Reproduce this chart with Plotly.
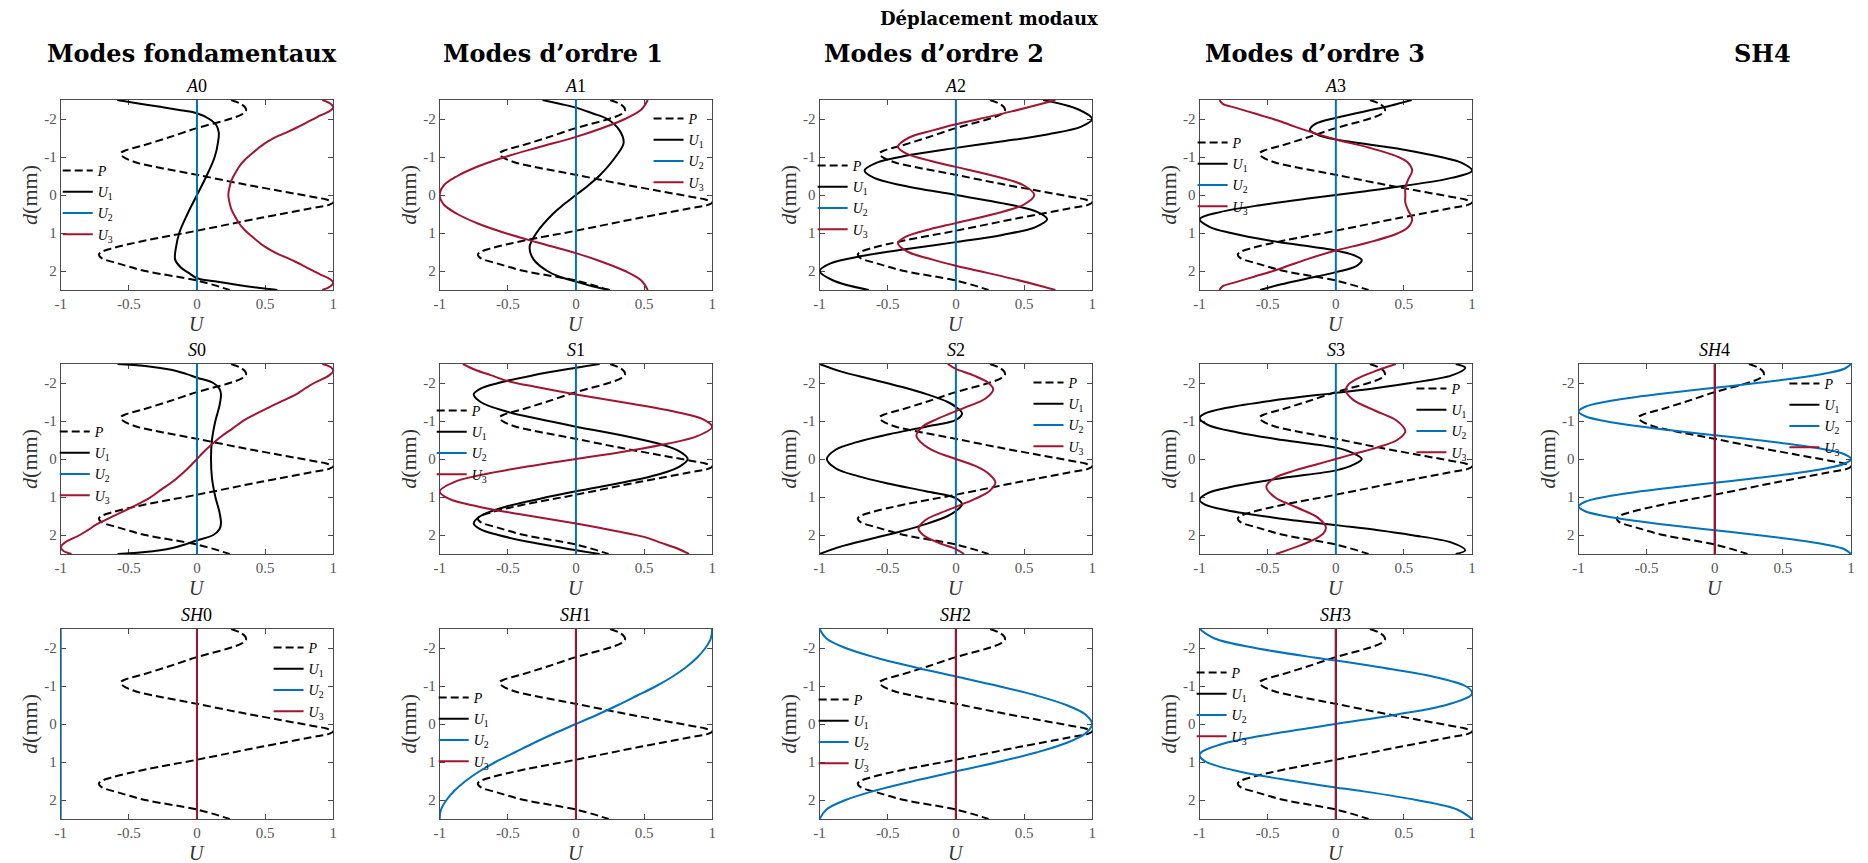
import plotly.graph_objects as go

W, H = 1868, 863

# ---------------- data (depth d in mm, normalised displacement U) ----------------
P_d = [-2.5, -2.4, -2.3, -2.22, -2.12, -2.0, -1.76, -1.5, -1.3, -1.18, -1.1, -1.0, -0.85, -0.7, -0.53,
       -0.3, -0.1, 0.05, 0.12, 0.19, 0.26, 0.35, 0.6, 0.94, 1.2, 1.4, 1.5, 1.57, 1.66, 1.8, 2.0, 2.25, 2.5]
P_u = [0.25, 0.32, 0.355, 0.36, 0.33, 0.24, 0.0, -0.22, -0.40, -0.52, -0.56, -0.54, -0.44, -0.25, 0.0,
       0.32, 0.62, 0.85, 0.95, 1.0, 0.97, 0.84, 0.47, 0.0, -0.38, -0.62, -0.70, -0.72, -0.70, -0.58, -0.38, 0.0, 0.24]

d_ends = [-2.5, 2.5]
zero_line = [0.0, 0.0]
minus_one_line = [-1.0, -1.0]

A0_U1_d = [-2.5, -2.41, -2.32, -2.23, -2.15, -2.0, -1.85, -1.65, -1.4, -1.0, -0.5, 0.0, 0.5, 1.0, 1.4, 1.7,
           1.9, 2.05, 2.19, 2.27, 2.36, 2.44, 2.5]
A0_U1 = [-0.585, -0.43, -0.27, -0.12, 0.0, 0.09, 0.14, 0.16, 0.155, 0.13, 0.07, 0.0, -0.07, -0.13, -0.155, -0.16,
         -0.12, -0.06, 0.0, 0.13, 0.29, 0.45, 0.59]
A0_U3_d = [-2.5, -2.4, -2.3, -2.2, -2.1, -1.99, -1.88, -1.77, -1.67, -1.56, -1.45, -1.34, -1.23, -1.08, -0.92,
           -0.75, -0.57, -0.4, -0.22, 0.0, 0.22, 0.4, 0.57, 0.75, 0.92, 1.08, 1.23, 1.34, 1.45, 1.56, 1.67, 1.77,
           1.88, 1.99, 2.1, 2.2, 2.3, 2.4, 2.5]
A0_U3 = [0.92, 0.98, 1.0, 0.97, 0.91, 0.85, 0.79, 0.73, 0.67, 0.60, 0.54, 0.49, 0.45, 0.40, 0.35,
         0.31, 0.28, 0.255, 0.24, 0.23, 0.24, 0.255, 0.28, 0.31, 0.35, 0.40, 0.45, 0.49, 0.54, 0.60, 0.67, 0.73,
         0.79, 0.85, 0.91, 0.97, 1.0, 0.98, 0.92]

A1_U1_d = [-2.5, -2.4, -2.3, -2.15, -2.0, -1.7, -1.37, -1.0, -0.5, -0.25, 0.0, 0.25, 0.5, 1.0, 1.37, 1.7, 2.0,
           2.15, 2.28, 2.4, 2.5]
A1_U1 = [-0.245, -0.12, 0.0, 0.12, 0.23, 0.32, 0.35, 0.29, 0.17, 0.09, 0.0, -0.09, -0.17, -0.29, -0.34, -0.31,
         -0.21, -0.12, 0.0, 0.12, 0.25]
A1_U3_d = [-2.5, -2.25, -2.0, -1.75, -1.53, -1.25, -1.0, -0.75, -0.5, -0.25, 0.0, 0.25, 0.5, 0.75, 1.0, 1.25,
           1.53, 1.75, 2.0, 2.25, 2.5]
A1_U3 = [0.527, 0.48, 0.36, 0.185, 0.0, -0.28, -0.52, -0.72, -0.87, -0.97, -1.0, -0.97, -0.87, -0.72, -0.52,
         -0.28, 0.0, 0.185, 0.36, 0.48, 0.527]

A2_U1_d = [-2.5, -2.25, -2.0, -1.8, -1.6, -1.42, -1.24, -1.05, -0.85, -0.64, -0.45, -0.25, 0.0, 0.25, 0.45,
           0.64, 0.85, 1.05, 1.24, 1.42, 1.6, 1.8, 2.0, 2.25, 2.5]
A2_U1 = [0.64, 0.9, 1.0, 0.92, 0.68, 0.36, 0.0, -0.34, -0.58, -0.67, -0.60, -0.39, 0.0, 0.39, 0.60,
         0.67, 0.58, 0.34, 0.0, -0.36, -0.68, -0.92, -1.0, -0.9, -0.64]
A2_U3_d = [-2.5, -2.4, -2.2, -2.0, -1.86, -1.7, -1.5, -1.27, -1.1, -0.9, -0.74, -0.5, -0.25, 0.0, 0.25, 0.5,
           0.74, 0.9, 1.1, 1.27, 1.5, 1.7, 1.86, 2.0, 2.2, 2.4, 2.5]
A2_U3 = [0.73, 0.63, 0.41, 0.17, 0.0, -0.17, -0.35, -0.425, -0.37, -0.19, 0.0, 0.28, 0.50, 0.575, 0.50, 0.28,
         0.0, -0.19, -0.37, -0.425, -0.35, -0.17, 0.0, 0.17, 0.41, 0.63, 0.73]

A3_U1_d = [-2.5, -2.35, -2.2, -2.03, -1.87, -1.71, -1.58, -1.46, -1.2, -1.0, -0.85, -0.64, -0.45, -0.25, -0.1,
           0.0, 0.1, 0.25, 0.45, 0.64, 0.85, 1.0, 1.2, 1.46, 1.58, 1.71, 1.87, 2.03, 2.2, 2.35, 2.5]
A3_U1 = [0.556, 0.40, 0.21, 0.0, -0.15, -0.19, -0.13, 0.0, 0.49, 0.77, 0.92, 1.0, 0.85, 0.52, 0.22,
         0.0, -0.22, -0.52, -0.85, -1.0, -0.92, -0.77, -0.49, 0.0, 0.13, 0.19, 0.15, 0.0, -0.21, -0.40, -0.556]
A3_U3_d = [-2.5, -2.4, -2.3, -2.15, -2.0, -1.85, -1.7, -1.46, -1.25, -1.0, -0.85, -0.64, -0.4, -0.2, 0.0,
           0.2, 0.4, 0.64, 0.85, 1.0, 1.25, 1.46, 1.7, 1.85, 2.0, 2.15, 2.3, 2.4, 2.5]
A3_U3 = [-0.854, -0.83, -0.74, -0.60, -0.46, -0.34, -0.22, 0.0, 0.24, 0.46, 0.53, 0.56, 0.53, 0.51, 0.51,
         0.51, 0.53, 0.56, 0.53, 0.46, 0.24, 0.0, -0.22, -0.34, -0.46, -0.60, -0.74, -0.83, -0.854]

S0_U1_d = [-2.5, -2.45, -2.34, -2.24, -2.14, -2.0, -1.85, -1.7, -1.4, -1.0, -0.5, 0.0, 0.5, 1.0, 1.4, 1.7,
           1.85, 2.0, 2.14, 2.24, 2.34, 2.45, 2.5]
S0_U1 = [-0.583, -0.38, -0.18, -0.08, 0.0, 0.12, 0.165, 0.176, 0.165, 0.135, 0.11, 0.103, 0.11, 0.135, 0.165,
         0.176, 0.165, 0.12, 0.0, -0.08, -0.18, -0.38, -0.583]
S0_U3_d = [-2.5, -2.42, -2.32, -2.2, -2.0, -1.87, -1.73, -1.55, -1.38, -1.2, -1.03, -0.8, -0.6, -0.34, -0.17,
           0.0, 0.17, 0.34, 0.6, 0.8, 1.03, 1.2, 1.38, 1.55, 1.73, 1.87, 2.0, 2.2, 2.32, 2.42, 2.5]
S0_U3 = [0.92, 0.98, 1.0, 0.97, 0.86, 0.80, 0.74, 0.64, 0.54, 0.44, 0.35, 0.26, 0.18, 0.095, 0.045,
         0.0, -0.045, -0.095, -0.18, -0.26, -0.35, -0.44, -0.54, -0.64, -0.74, -0.80, -0.86, -0.97, -1.0, -0.98,
         -0.92]

S1_U1_d = [-2.5, -2.4, -2.2, -2.0, -1.85, -1.7, -1.5, -1.25, -1.05, -0.85, -0.6, -0.4, -0.2, 0.0, 0.2, 0.4,
           0.6, 0.85, 1.05, 1.25, 1.5, 1.7, 1.85, 2.0, 2.2, 2.4, 2.5]
S1_U1 = [0.174, 0.0, -0.32, -0.57, -0.70, -0.75, -0.70, -0.51, -0.27, 0.0, 0.37, 0.61, 0.76, 0.82, 0.76, 0.61,
         0.37, 0.0, -0.27, -0.51, -0.70, -0.75, -0.70, -0.57, -0.32, 0.0, 0.174]
S1_U3_d = [-2.5, -2.35, -2.2, -2.05, -1.9, -1.7, -1.45, -1.25, -1.05, -0.85, -0.6, -0.4, -0.2, 0.0, 0.2, 0.4,
           0.6, 0.85, 1.05, 1.25, 1.45, 1.7, 1.9, 2.05, 2.2, 2.35, 2.5]
S1_U3 = [-0.83, -0.74, -0.62, -0.50, -0.30, 0.0, 0.42, 0.72, 0.93, 1.0, 0.89, 0.67, 0.36, 0.0, -0.36, -0.67,
         -0.89, -1.0, -0.93, -0.72, -0.42, 0.0, 0.30, 0.50, 0.62, 0.74, 0.83]

S2_U1_d = [-2.5, -2.3, -2.1, -1.9, -1.7, -1.5, -1.37, -1.2, -1.03, -0.85, -0.65, -0.45, -0.25, 0.0, 0.25, 0.45,
           0.65, 0.85, 1.03, 1.2, 1.37, 1.5, 1.7, 1.9, 2.1, 2.3, 2.5]
S2_U1 = [-1.0, -0.84, -0.62, -0.40, -0.21, -0.06, 0.0, 0.045, 0.0, -0.22, -0.49, -0.72, -0.88, -0.947, -0.88,
         -0.72, -0.49, -0.22, 0.0, 0.045, 0.0, -0.06, -0.21, -0.40, -0.62, -0.84, -1.0]
S2_U3_d = [-2.5, -2.37, -2.2, -2.0, -1.83, -1.6, -1.43, -1.26, -1.05, -0.85, -0.62, -0.4, -0.2, 0.0, 0.2, 0.4,
           0.62, 0.85, 1.05, 1.26, 1.43, 1.6, 1.83, 2.0, 2.2, 2.37, 2.5]
S2_U3 = [-0.06, 0.0, 0.13, 0.24, 0.274, 0.22, 0.12, 0.0, -0.14, -0.245, -0.29, -0.245, -0.155, 0.0, 0.155,
         0.245, 0.29, 0.245, 0.14, 0.0, -0.12, -0.22, -0.274, -0.24, -0.13, 0.0, 0.06]

S3_U1_d = [-2.5, -2.4, -2.2, -2.0, -1.87, -1.74, -1.55, -1.35, -1.2, -1.08, -0.9, -0.7, -0.5, -0.3, -0.15, 0.0,
           0.15, 0.3, 0.5, 0.7, 0.9, 1.08, 1.2, 1.35, 1.55, 1.74, 1.87, 2.0, 2.2, 2.4, 2.5]
S3_U1 = [0.88, 0.95, 0.85, 0.55, 0.30, 0.0, -0.44, -0.80, -0.96, -1.0, -0.94, -0.72, -0.39, 0.0, 0.13, 0.19,
         0.13, 0.0, -0.39, -0.72, -0.94, -1.0, -0.96, -0.80, -0.44, 0.0, 0.30, 0.55, 0.85, 0.95, 0.88]
S3_U3_d = [-2.5, -2.3, -2.1, -1.95, -1.8, -1.55, -1.27, -1.0, -0.73, -0.5, -0.3, -0.15, 0.0, 0.15, 0.3, 0.5,
           0.73, 1.0, 1.27, 1.55, 1.8, 1.95, 2.1, 2.3, 2.5]
S3_U3 = [0.44, 0.28, 0.15, 0.09, 0.073, 0.13, 0.29, 0.45, 0.51, 0.45, 0.30, 0.15, 0.0, -0.15, -0.30, -0.45,
         -0.51, -0.45, -0.29, -0.13, -0.073, -0.09, -0.15, -0.28, -0.44]

SH1_U2_d = [-2.5, -2.25, -2.0, -1.75, -1.5, -1.25, -1.0, -0.75, -0.5, -0.25, 0.0, 0.25, 0.5, 0.75, 1.0, 1.25,
            1.5, 1.75, 2.0, 2.25, 2.5]
SH1_U2 = [1.0, 0.99, 0.95, 0.89, 0.81, 0.71, 0.59, 0.45, 0.31, 0.16, 0.0, -0.16, -0.31, -0.45, -0.59, -0.71,
          -0.81, -0.89, -0.95, -0.99, -1.0]
SH2_U2_d = [-2.5, -2.25, -2.0, -1.75, -1.5, -1.25, -1.0, -0.75, -0.5, -0.25, 0.0, 0.25, 0.5, 0.75, 1.0, 1.25,
            1.5, 1.75, 2.0, 2.25, 2.5]
SH2_U2 = [-1.0, -0.95, -0.81, -0.59, -0.31, 0.0, 0.31, 0.59, 0.81, 0.95, 1.0, 0.95, 0.81, 0.59, 0.31, 0.0,
          -0.31, -0.59, -0.81, -0.95, -1.0]
SH3_U2_d = [-2.5, -2.25, -2.0, -1.75, -1.67, -1.5, -1.25, -1.0, -0.83, -0.75, -0.5, -0.25, 0.0, 0.25, 0.5,
            0.75, 0.83, 1.0, 1.25, 1.5, 1.67, 1.75, 2.0, 2.25, 2.5]
SH3_U2 = [-1.0, -0.89, -0.59, -0.16, 0.0, 0.31, 0.71, 0.95, 1.0, 0.99, 0.81, 0.45, 0.0, -0.45, -0.81,
          -0.99, -1.0, -0.95, -0.71, -0.31, 0.0, 0.16, 0.59, 0.89, 1.0]
SH4_U2_d = [-2.5, -2.375, -2.25, -2.125, -2.0, -1.875, -1.75, -1.625, -1.5, -1.375, -1.25, -1.125, -1.0, -0.875,
            -0.75, -0.625, -0.5, -0.375, -0.25, -0.125, 0.0, 0.125, 0.25, 0.375, 0.5, 0.625, 0.75, 0.875, 1.0,
            1.125, 1.25, 1.375, 1.5, 1.625, 1.75, 1.875, 2.0, 2.125, 2.25, 2.375, 2.5]
SH4_U2 = [1.0, 0.951, 0.809, 0.588, 0.309, 0.0, -0.309, -0.588, -0.809, -0.951, -1.0, -0.951, -0.809, -0.588,
          -0.309, 0.0, 0.309, 0.588, 0.809, 0.951, 1.0, 0.951, 0.809, 0.588, 0.309, 0.0, -0.309, -0.588, -0.809,
          -0.951, -1.0, -0.951, -0.809, -0.588, -0.309, 0.0, 0.309, 0.588, 0.809, 0.951, 1.0]

x_tickvals = [-1, -0.5, 0, 0.5, 1]
x_ticktext = ["-1", "-0.5", "0", "0.5", "1"]
y_tickvals = [-2, -1, 0, 1, 2]
y_ticktext = ["-2", "-1", "0", "1", "2"]

column_titles = ["Modes fondamentaux", "Modes d’ordre 1", "Modes d’ordre 2", "Modes d’ordre 3", "SH4"]
main_title = "Déplacement modaux"

# panels: (title, row, col, U1, U2, U3)
panels = [
    ("<i>A</i>0", 0, 0, (A0_U1_d, A0_U1), (d_ends, zero_line), (A0_U3_d, A0_U3)),
    ("<i>A</i>1", 0, 1, (A1_U1_d, A1_U1), (d_ends, zero_line), (A1_U3_d, A1_U3)),
    ("<i>A</i>2", 0, 2, (A2_U1_d, A2_U1), (d_ends, zero_line), (A2_U3_d, A2_U3)),
    ("<i>A</i>3", 0, 3, (A3_U1_d, A3_U1), (d_ends, zero_line), (A3_U3_d, A3_U3)),
    ("<i>S</i>0", 1, 0, (S0_U1_d, S0_U1), (d_ends, zero_line), (S0_U3_d, S0_U3)),
    ("<i>S</i>1", 1, 1, (S1_U1_d, S1_U1), (d_ends, zero_line), (S1_U3_d, S1_U3)),
    ("<i>S</i>2", 1, 2, (S2_U1_d, S2_U1), (d_ends, zero_line), (S2_U3_d, S2_U3)),
    ("<i>S</i>3", 1, 3, (S3_U1_d, S3_U1), (d_ends, zero_line), (S3_U3_d, S3_U3)),
    ("<i>SH</i>4", 1, 4, (d_ends, zero_line), (SH4_U2_d, SH4_U2), (d_ends, zero_line)),
    ("<i>SH</i>0", 2, 0, (d_ends, zero_line), (d_ends, minus_one_line), (d_ends, zero_line)),
    ("<i>SH</i>1", 2, 1, (d_ends, zero_line), (SH1_U2_d, SH1_U2), (d_ends, zero_line)),
    ("<i>SH</i>2", 2, 2, (d_ends, zero_line), (SH2_U2_d, SH2_U2), (d_ends, zero_line)),
    ("<i>SH</i>3", 2, 3, (d_ends, zero_line), (SH3_U2_d, SH3_U2), (d_ends, zero_line)),
]

# ---------------- layout geometry (pixels) ----------------
col_left = [55, 436, 818, 1200, 1581]
row_top = [100, 364, 629]
PW, PH = 274, 190
col_title_x = [187, 550, 933, 1316, 1766]
# legend: (line start x, first entry centre y)
legend_pos = [(62, 171), (656, 119), (821, 166), (1203, 143),
              (59, 432), (438, 411), (1038, 383), (1423, 389), (1798, 384),
              (274, 648), (440, 698), (822, 700), (1202, 673)]

BLUE, RED, BLACK = "#0072BD", "#A2142F", "#000000"
AX = "#4a4a4a"
SERIF = "Liberation Serif"
BOLD = "DejaVu Serif"


def fx(px):
    return px / W


def fy(py):
    return 1 - py / H


fig = go.Figure()
layout = dict(width=W, height=H, margin=dict(l=0, r=0, t=0, b=0), paper_bgcolor="white",
              plot_bgcolor="white", showlegend=True)
annotations = []

for i, (title, r, c, u1, u2, u3) in enumerate(panels):
    s = "" if i == 0 else str(i + 1)
    leg = "legend" if i == 0 else f"legend{i + 1}"
    L, T = col_left[c], row_top[r]
    common = dict(ticks="inside", ticklen=5, tickcolor=AX, showline=True, linecolor=AX, linewidth=1,
                  mirror="allticks", showgrid=False, zeroline=False, layer="below traces",
                  tickfont=dict(family=SERIF, size=15, color="#555555"))
    layout["xaxis" + s] = dict(domain=[fx(L), fx(L + PW)], range=[-1, 1], anchor="y" + s,
                               tickvals=x_tickvals, ticktext=x_ticktext, **common)
    layout["yaxis" + s] = dict(domain=[fy(T + PH), fy(T)], range=[2.5, -2.5], anchor="x" + s,
                               tickvals=y_tickvals, ticktext=y_ticktext, **common)
    series = [("<i>P</i>", (P_d, P_u), BLACK, "8px,4px"),
              ("<i>U</i><sub>1</sub>", u1, BLACK, "solid"),
              ("<i>U</i><sub>2</sub>", u2, BLUE, "solid"),
              ("<i>U</i><sub>3</sub>", u3, RED, "solid")]
    for name, (dd, uu), col, dash in series:
        fig.add_trace(go.Scatter(x=uu, y=dd, mode="lines", name=name, legend=leg,
                                 xaxis="x" + s, yaxis="y" + s, hoverinfo="skip",
                                 line=dict(color=col, width=2, dash=dash,
                                           shape="spline" if len(dd) > 2 else "linear")))
    lx, ly = legend_pos[i]
    layout[leg] = dict(x=fx(lx - 10), y=fy(ly - 16), xanchor="left", yanchor="top",
                       bgcolor="rgba(0,0,0,0)", borderwidth=0, itemwidth=30, tracegroupgap=0,
                       font=dict(family=SERIF, size=14, color="#000000"))
    annotations.append(dict(text=title, x=fx(L + PW / 2), y=fy(T - 14), xref="paper", yref="paper",
                            showarrow=False, xanchor="center", yanchor="middle",
                            font=dict(family=SERIF, size=18, color="#000000")))
    annotations.append(dict(text="<i>U</i>", x=fx(L + PW / 2), y=fy(T + PH + 34), xref="paper",
                            yref="paper", showarrow=False, xanchor="center", yanchor="middle",
                            font=dict(family=SERIF, size=20, color="#333333")))
    annotations.append(dict(text="<i>d</i>(mm)", x=fx(L - 32), y=fy(T + PH / 2), xref="paper",
                            yref="paper", showarrow=False, xanchor="center", yanchor="middle",
                            textangle=-90, font=dict(family=SERIF, size=22, color="#333333")))

for k, t in enumerate(column_titles):
    annotations.append(dict(text=f"<b>{t}</b>", x=fx(col_title_x[k]), y=fy(53), xref="paper", yref="paper",
                            showarrow=False, xanchor="center", yanchor="middle",
                            font=dict(family=BOLD, size=24, color="#000000")))
annotations.append(dict(text=f"<b>{main_title}</b>", x=fx(988), y=fy(18), xref="paper", yref="paper",
                        showarrow=False, xanchor="center", yanchor="middle",
                        font=dict(family=BOLD, size=18, color="#000000")))

layout["annotations"] = annotations
fig.update_layout(**layout)
fig.write_html("out.html", config={"displayModeBar": False},
               post_script="document.body.style.margin='0';document.body.style.overflow='hidden';")
